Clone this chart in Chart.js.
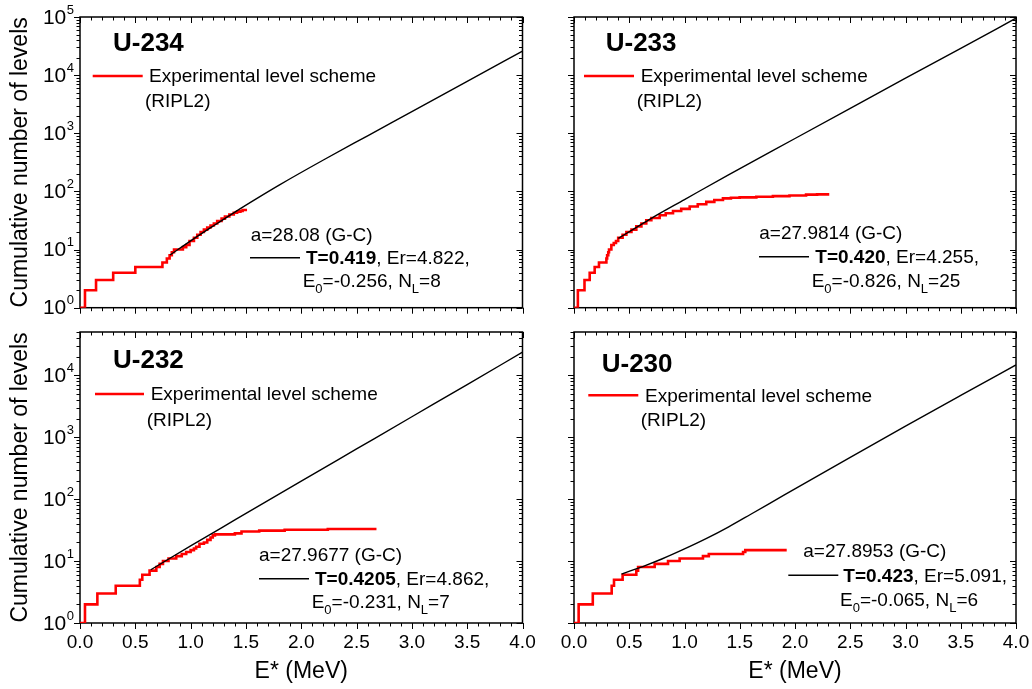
<!DOCTYPE html>
<html>
<head>
<meta charset="utf-8">
<script src="https://cdn.jsdelivr.net/npm/chart.js@4.4.1/dist/chart.umd.min.js"></script>
<style>
  html, body { margin: 0; padding: 0; background: #fff; }
  #wrap { position: relative; width: 1032px; height: 689px; overflow: hidden; background: #fff; }
  #wrap canvas { position: absolute; }
</style>
</head>
<body>
<div id="wrap">
  <canvas id="u234"></canvas>
  <canvas id="u233"></canvas>
  <canvas id="u232"></canvas>
  <canvas id="u230"></canvas>
</div>
<script>
const FONT = '"Liberation Sans", Arial, Helvetica, sans-serif';

// Excitation energy axis (MeV)
const energyMin = 0;
const energyMax = 4;
const energyStep = 0.5;

// U-234: experimental cumulative level counts (step function) and model curve
const u234LevelE = [0, 0.045, 0.145, 0.30, 0.50, 0.745, 0.785, 0.81, 0.83, 0.85, 0.93, 0.96, 0.99, 1.03, 1.06, 1.09, 1.12, 1.15, 1.18, 1.21, 1.24, 1.28, 1.31, 1.35, 1.39, 1.42, 1.45, 1.47, 1.51];
const u234LevelN = [1, 2, 3, 4, 5, 6, 7, 8, 9, 10, 11, 12, 14, 16, 18, 20, 22, 24, 26, 28, 31, 34, 37, 40, 43, 45, 46, 48, 48];
const u234ModelE = [0.814, 1.0, 1.2, 1.4, 1.6, 1.8, 2.2, 2.6, 3.0, 3.5, 4.0];
const u234ModelN = [8.05, 14.1, 25.1, 44.2, 76.0, 128.5, 347, 906, 2360, 7820, 25900];

// U-233
const u233LevelE = [0, 0.035, 0.095, 0.142, 0.187, 0.226, 0.293, 0.30, 0.31, 0.317, 0.338, 0.36, 0.38, 0.40, 0.44, 0.474, 0.52, 0.564, 0.61, 0.654, 0.70, 0.775, 0.83, 0.896, 0.97, 1.047, 1.12, 1.197, 1.27, 1.348, 1.42, 1.499, 1.65, 1.80, 1.95, 2.10, 2.20, 2.31];
const u233LevelN = [1, 2, 3, 4, 5, 6, 7, 8, 9, 10, 12, 13, 14, 16, 18, 20, 22, 25, 28, 32, 35, 39, 42, 46, 50, 55, 60, 66, 71, 76, 78, 79, 81, 83, 85, 88, 89, 89];
const u233ModelE = [0.401, 0.55, 0.70, 1.0, 1.394, 2.0, 2.5, 3.0, 3.5, 4.0];
const u233ModelN = [15.6, 23.2, 34.5, 72.4, 191, 813, 2690, 8910, 28800, 95500];

// U-232
const u232LevelE = [0, 0.045, 0.157, 0.323, 0.541, 0.563, 0.629, 0.69, 0.72, 0.75, 0.80, 0.87, 0.92, 0.96, 1.0, 1.03, 1.05, 1.08, 1.12, 1.15, 1.18, 1.20, 1.22, 1.40, 1.46, 1.62, 1.85, 2.24, 2.68];
const u232LevelN = [1, 2, 3, 4, 5, 6, 7, 8, 9, 10, 11, 12, 13, 14, 15, 16, 17, 19, 20, 22, 24, 26, 27, 28, 30, 31, 32, 33, 33];
const u232ModelE = [0.64, 1.0, 1.4, 2.0, 2.5, 3.0, 3.5, 4.0];
const u232ModelN = [7.24, 17.6, 46.1, 195, 646, 2140, 7080, 23600];

// U-230
const u230LevelE = [0, 0.042, 0.170, 0.341, 0.362, 0.440, 0.564, 0.58, 0.73, 0.851, 0.956, 1.167, 1.22, 1.53, 1.55, 1.925];
const u230LevelN = [1, 2, 3, 4, 5, 6, 7, 8, 9, 10, 11, 12, 13, 14, 15, 15];
const u230ModelE = [0.43, 0.65, 0.8, 1.0, 1.2, 1.4, 1.6, 1.9, 2.5, 3.0, 3.5, 4.0];
const u230ModelN = [6.17, 8.53, 10.9, 15.7, 23.2, 35.7, 57.0, 116, 474, 1510, 4730, 14700];

const legendLabel = ['Experimental level scheme', '(RIPL2)'];

// Panel descriptions: data, fit parameters and page placement
const panels = [
  {
    canvas: 'u234', name: 'U-234', levelE: u234LevelE, levelN: u234LevelN, modelE: u234ModelE, modelN: u234ModelN,
    a: 'a=28.08 (G-C)', T: 'T=0.419', Er: ', Er=4.822,', E0: '=-0.256, N', NL: '=8',
    yMax: 1e5, xLabels: false, yLabels: true,
    box: { left: 0, top: 0, width: 540, height: 320 },
    area: { left: 80, top: 17, right: 522.5, bottom: 307.7 },
    pos: { title: [33, 33.7], legLine: [12.7, 62.7, 59], legText: [69, 64.7], legText2: [65, 89.7],
           aText: [170.7, 223.7], fitLine: [170, 220, 240.7], tText: [226, 247], e0Text: [222.7, 270.3] }
  },
  {
    canvas: 'u233', name: 'U-233', levelE: u233LevelE, levelN: u233LevelN, modelE: u233ModelE, modelN: u233ModelN,
    a: 'a=27.9814 (G-C)', T: 'T=0.420', Er: ', Er=4.255,', E0: '=-0.826, N', NL: '=25',
    yMax: 1e5, xLabels: false, yLabels: false,
    box: { left: 540, top: 0, width: 492, height: 320 },
    area: { left: 574, top: 17, right: 1016, bottom: 307.7 },
    pos: { title: [31.7, 33.7], legLine: [10, 60, 59], legText: [66.7, 64.7], legText2: [62.7, 89.7],
           aText: [185.3, 222], fitLine: [185, 235, 239.7], tText: [241.3, 246.3], e0Text: [237.7, 269.7] }
  },
  {
    canvas: 'u232', name: 'U-232', levelE: u232LevelE, levelN: u232LevelN, modelE: u232ModelE, modelN: u232ModelN,
    a: 'a=27.9677 (G-C)', T: 'T=0.4205', Er: ', Er=4.862,', E0: '=-0.231, N', NL: '=7',
    yMax: 5e4, xLabels: true, yLabels: true,
    box: { left: 0, top: 320, width: 540, height: 369 },
    area: { left: 80, top: 332, right: 522.5, bottom: 623 },
    pos: { title: [33, 36.3], legLine: [15, 64, 62], legText: [70.7, 68], legText2: [66.7, 94],
           aText: [179, 228.7], fitLine: [179, 229, 246.7], tText: [235, 253], e0Text: [231.7, 276.3] }
  },
  {
    canvas: 'u230', name: 'U-230', levelE: u230LevelE, levelN: u230LevelN, modelE: u230ModelE, modelN: u230ModelN,
    a: 'a=27.8953 (G-C)', T: 'T=0.423', Er: ', Er=5.091,', E0: '=-0.065, N', NL: '=6',
    yMax: 5e4, xLabels: true, yLabels: false,
    box: { left: 540, top: 320, width: 492, height: 369 },
    area: { left: 574, top: 332, right: 1016, bottom: 623 },
    pos: { title: [27.7, 39.7], legLine: [14.3, 64.3, 63.3], legText: [71, 69.7], legText2: [66.7, 94],
           aText: [229.3, 224.7], fitLine: [214.3, 264.3, 243.3], tText: [269.3, 249.7], e0Text: [266, 274] }
  }
];

// Frame with Origin-style ticks: bottom/left ticks point out, top/right ticks point in
const frameTicks = {
  id: 'frameTicks',
  beforeDatasetsDraw(chart) {
    const { ctx, chartArea: a, scales: { x, y } } = chart;
    ctx.save();
    ctx.strokeStyle = '#000';
    ctx.lineWidth = 1;
    ctx.beginPath();
    for (let k = 0; k <= 40; k++) {
      const v = energyMin + k * 0.1;
      if (v > energyMax + 1e-9) break;
      const px = Math.round(x.getPixelForValue(v)) + 0.5;
      const len = (k % 5 === 0) ? 6 : 3.5;
      ctx.moveTo(px, a.bottom); ctx.lineTo(px, a.bottom + len);
      ctx.moveTo(px, a.top); ctx.lineTo(px, a.top + len);
    }
    for (let d = 0; d <= 5; d++) {
      for (let m = 1; m <= 9; m++) {
        const v = m * Math.pow(10, d);
        if (v > y.max * 1.0001) break;
        const py = Math.round(y.getPixelForValue(v)) + 0.5;
        const len = (m === 1) ? 6 : 3.5;
        ctx.moveTo(a.left - len, py); ctx.lineTo(a.left, py);
        ctx.moveTo(a.right - len, py); ctx.lineTo(a.right, py);
      }
    }
    ctx.stroke();
    ctx.lineWidth = 1.5;
    ctx.strokeRect(a.left, a.top, a.right - a.left, a.bottom - a.top);
    ctx.restore();
  }
};

function drawParts(ctx, x, y, parts, size) {
  let cx = x;
  for (const p of parts) {
    const fs = p.sub ? 13 : size;
    ctx.font = (p.bold ? 'bold ' : '') + fs + 'px ' + FONT;
    ctx.fillText(p.t, cx, y + (p.sub ? 6 : 0));
    cx += ctx.measureText(p.t).width;
  }
}

// Decade labels 10^n, legend and fit annotation
const panelText = {
  id: 'panelText',
  afterDraw(chart, args, opts) {
    const p = opts.panel;
    const { ctx, chartArea: a, scales: { y } } = chart;
    const L = a.left, T = a.top, P = p.pos;
    ctx.save();
    ctx.fillStyle = '#000';
    ctx.textAlign = 'left';
    ctx.textBaseline = 'alphabetic';

    if (p.yLabels) {
      for (let d = 0; d <= 5; d++) {
        const v = Math.pow(10, d);
        if (v > y.max * 1.0001) break;
        const py = y.getPixelForValue(v);
        ctx.font = '13px ' + FONT;
        const sw = ctx.measureText(String(d)).width;
        const sx = L - 6 - sw;
        ctx.fillText(String(d), sx, py - 3.3);
        ctx.font = '21px ' + FONT;
        ctx.textAlign = 'right';
        ctx.textBaseline = 'middle';
        ctx.fillText('10', sx - 0.5, py + 1);
        ctx.textAlign = 'left';
        ctx.textBaseline = 'alphabetic';
      }
    }

    ctx.font = 'bold 26px ' + FONT;
    ctx.fillText(p.name, L + P.title[0], T + P.title[1]);

    ctx.strokeStyle = '#ff0000';
    ctx.lineWidth = 2.6;
    ctx.beginPath();
    ctx.moveTo(L + P.legLine[0], T + P.legLine[2]);
    ctx.lineTo(L + P.legLine[1], T + P.legLine[2]);
    ctx.stroke();

    ctx.font = '19px ' + FONT;
    ctx.fillText(legendLabel[0], L + P.legText[0], T + P.legText[1]);
    ctx.fillText(legendLabel[1], L + P.legText2[0], T + P.legText2[1]);
    ctx.fillText(p.a, L + P.aText[0], T + P.aText[1]);

    ctx.strokeStyle = '#000';
    ctx.lineWidth = 1.4;
    ctx.beginPath();
    ctx.moveTo(L + P.fitLine[0], T + P.fitLine[2]);
    ctx.lineTo(L + P.fitLine[1], T + P.fitLine[2]);
    ctx.stroke();

    drawParts(ctx, L + P.tText[0], T + P.tText[1], [{ t: p.T, bold: true }, { t: p.Er }], 19);
    drawParts(ctx, L + P.e0Text[0], T + P.e0Text[1],
      [{ t: 'E' }, { t: '0', sub: true }, { t: p.E0 }, { t: 'L', sub: true }, { t: p.NL }], 19);
    ctx.restore();
  }
};

function points(xs, ys) {
  return xs.map((v, i) => ({ x: v, y: ys[i] }));
}

for (const p of panels) {
  const cv = document.getElementById(p.canvas);
  cv.width = p.box.width;
  cv.height = p.box.height;
  cv.style.left = p.box.left + 'px';
  cv.style.top = p.box.top + 'px';
  cv.style.width = p.box.width + 'px';
  cv.style.height = p.box.height + 'px';

  const yWidth = p.area.left - p.box.left;
  const xHeight = p.box.top + p.box.height - p.area.bottom;

  new Chart(cv, {
    type: 'line',
    data: {
      datasets: [
        {
          label: 'model',
          data: points(p.modelE, p.modelN),
          borderColor: '#000',
          borderWidth: 1.4,
          pointRadius: 0,
          fill: false,
          cubicInterpolationMode: 'monotone'
        },
        {
          label: legendLabel.join(' '),
          data: points(p.levelE, p.levelN),
          borderColor: '#ff0000',
          borderWidth: 2.6,
          pointRadius: 0,
          fill: false,
          stepped: 'before'
        }
      ]
    },
    options: {
      responsive: false,
      animation: false,
      devicePixelRatio: 1,
      layout: { padding: { left: 0, top: p.area.top - p.box.top, right: p.box.left + p.box.width - p.area.right, bottom: 0 } },
      plugins: {
        legend: { display: false },
        tooltip: { enabled: false },
        panelText: { panel: p }
      },
      scales: {
        x: {
          type: 'linear',
          min: energyMin,
          max: energyMax,
          grid: { display: false, drawTicks: false },
          border: { display: false },
          ticks: {
            display: p.xLabels,
            stepSize: energyStep,
            autoSkip: false,
            maxRotation: 0,
            padding: 8,
            color: '#000',
            font: { family: FONT, size: 19 },
            callback: (v) => Number(v).toFixed(1)
          },
          title: {
            display: p.xLabels,
            text: 'E* (MeV)',
            color: '#000',
            font: { family: FONT, size: 23 },
            padding: { top: 0, bottom: 3.2 }
          },
          afterFit(s) { s.height = xHeight; s.paddingLeft = 0; s.paddingRight = 0; }
        },
        y: {
          type: 'logarithmic',
          min: 1,
          max: p.yMax,
          grid: { display: false, drawTicks: false },
          border: { display: false },
          ticks: { display: false },
          title: {
            display: p.yLabels,
            text: 'Cumulative number of levels',
            color: '#000',
            font: { family: FONT, size: 23 },
            padding: { top: 6.5, bottom: 0 }
          },
          afterFit(s) { s.width = yWidth; s.paddingTop = 0; s.paddingBottom = 0; }
        }
      }
    },
    plugins: [frameTicks, panelText]
  });
}
</script>
</body>
</html>
